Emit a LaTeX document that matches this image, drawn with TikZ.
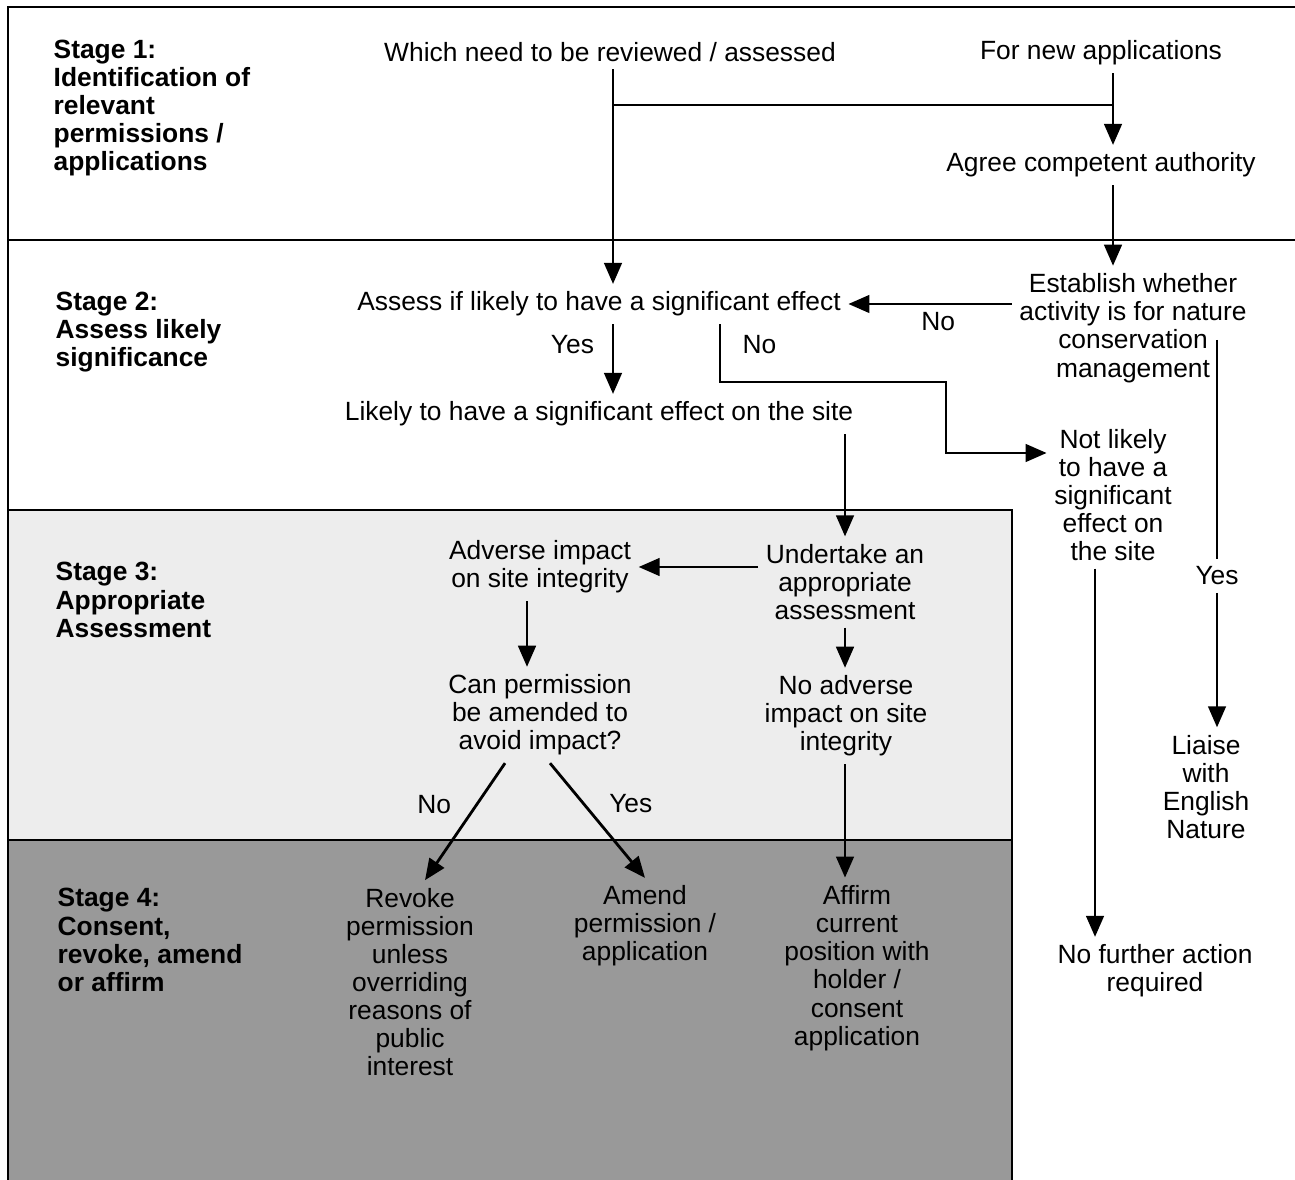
\documentclass[tikz,border=0pt]{standalone}
\usepackage{fontspec}
\setmainfont{Liberation Sans}
\usetikzlibrary{calc, arrows.meta}

\begin{document}
\begin{tikzpicture}[x=0.01cm, y=-0.01cm,
  txt/.style={align=center, inner sep=2pt, font=\fontsize{7.5}{8}\selectfont},
  stage/.style={anchor=west, align=left, inner sep=0pt, font=\fontsize{7.5}{8}\selectfont\bfseries},
  arr/.style={-{Triangle[length=6pt,width=5pt]}, line width=0.8pt},
  frame/.style={line width=0.8pt}]
\useasboundingbox (0,0) rectangle (1295,1180);
% stage panels
\fill[black!7] (8,510) rectangle (1012,840);
\fill[black!40] (8,840) rectangle (1012,1180);
\draw[frame] (1295,7) -- (8,7) -- (8,1180);
\draw[frame] (8,240) -- (1295,240);
\draw[frame] (8,510) -- (1012,510) -- (1012,1180);
\draw[frame] (8,840) -- (1012,840);

% stage titles
\node[stage] (st1) at (53,108) {Stage 1:\\Identification of\\relevant\\permissions /\\applications};
\node[stage] (st2) at (55,332) {Stage 2:\\Assess likely\\significance};
\node[stage] (st3) at (55,600) {Stage 3:\\Appropriate\\Assessment};
\node[stage] (st4) at (57,940) {Stage 4:\\Consent,\\revoke, amend\\or affirm};

% steps
\node[txt] (review) at (610,52) {Which need to be reviewed / assessed};
\node[txt] (newapp) at (1101,53) {For new applications};
\node[txt] (agree) at (1101,165) {Agree competent authority};
\node[txt] (establish) at (1133,328) {Establish whether\\activity is for nature\\conservation\\management};
\node[txt] (assess) at (599,304) {Assess if likely to have a significant effect};
\node[txt] (likely) at (599,414) {Likely to have a significant effect on the site};
\node[txt] (notlikely) at (1113,495) {Not likely\\to have a\\significant\\effect on\\the site};
\node[txt] (liaise) at (1206,787) {Liaise\\with\\English\\Nature};
\node[txt] (nofurther) at (1155,971) {No further action\\required};
\node[txt] (undertake) at (845,582) {Undertake an\\appropriate\\assessment};
\node[txt] (adverse) at (540,567) {Adverse impact\\on site integrity};
\node[txt] (noadverse) at (846,716) {No adverse\\impact on site\\integrity};
\node[txt] (canamend) at (540,715) {Can permission\\be amended to\\avoid impact?};
\node[txt] (revoke) at (410,982) {Revoke\\permission\\unless\\overriding\\reasons of\\public\\interest};
\node[txt] (amend) at (645,926) {Amend\\permission /\\application};
\node[txt] (affirm) at (857,968) {Affirm\\current\\position with\\holder /\\consent\\application};
\node[txt] (yesE) at (1217,576) {Yes};

% connectors
\coordinate (fork) at (613,105);
\coordinate (right) at (1113,105);
\coordinate (bend) at (946,453);
\coordinate (nl) at ($(notlikely.south)+(-18,0)$);
\draw[arr] (fork |- review.south) -- (fork |- assess.north);
\draw[line width=0.8pt] (fork) -- (right);
\draw[arr] (right |- newapp.south) -- (right |- agree.north);
\draw[arr] (right |- agree.south) -- (right |- establish.north);
\draw[arr] (establish.west |- assess.east) -- node[txt, pos=0.45, below=0pt] {No} (assess.east);
\draw[arr] ($(assess.south)+(14,0)$) -- node[txt, pos=0.3, left=3pt] {Yes} ($(likely.north)+(14,0)$);
\draw[arr] ($(assess.south)+(121,0)$) -- node[txt, pos=0.35, right=4pt] {No} ++(0,58) -| (bend) -- (bend -| notlikely.west);
\draw[line width=0.8pt] (yesE.north |- establish.center) ++(0,12) -- (yesE.north);
\draw[arr] (yesE.south) -- (yesE.south |- liaise.north);
\draw[arr] (nl) -- (nl |- nofurther.north);
\draw[arr] (likely.south -| undertake.north) -- (undertake.north);
\draw[arr] (undertake.west |- adverse.east) -- (adverse.east);
\draw[arr] (undertake.south) -- (undertake.south |- noadverse.north);
\draw[arr] ($(adverse.south)+(-13,0)$) -- ($(canamend.north)+(-13,0)$);
\draw[arr] ($(canamend.south)+(-35,0)$) -- node[txt, pos=0.35, left=5pt] {No} ($(revoke.north)+(15,0)$);
\draw[arr] ($(canamend.south)+(10,0)$) -- node[txt, pos=0.35, right=5pt] {Yes} (amend.north);
\draw[arr] (undertake.south |- noadverse.south) -- (undertake.south |- affirm.north);
\end{tikzpicture}
\end{document}
